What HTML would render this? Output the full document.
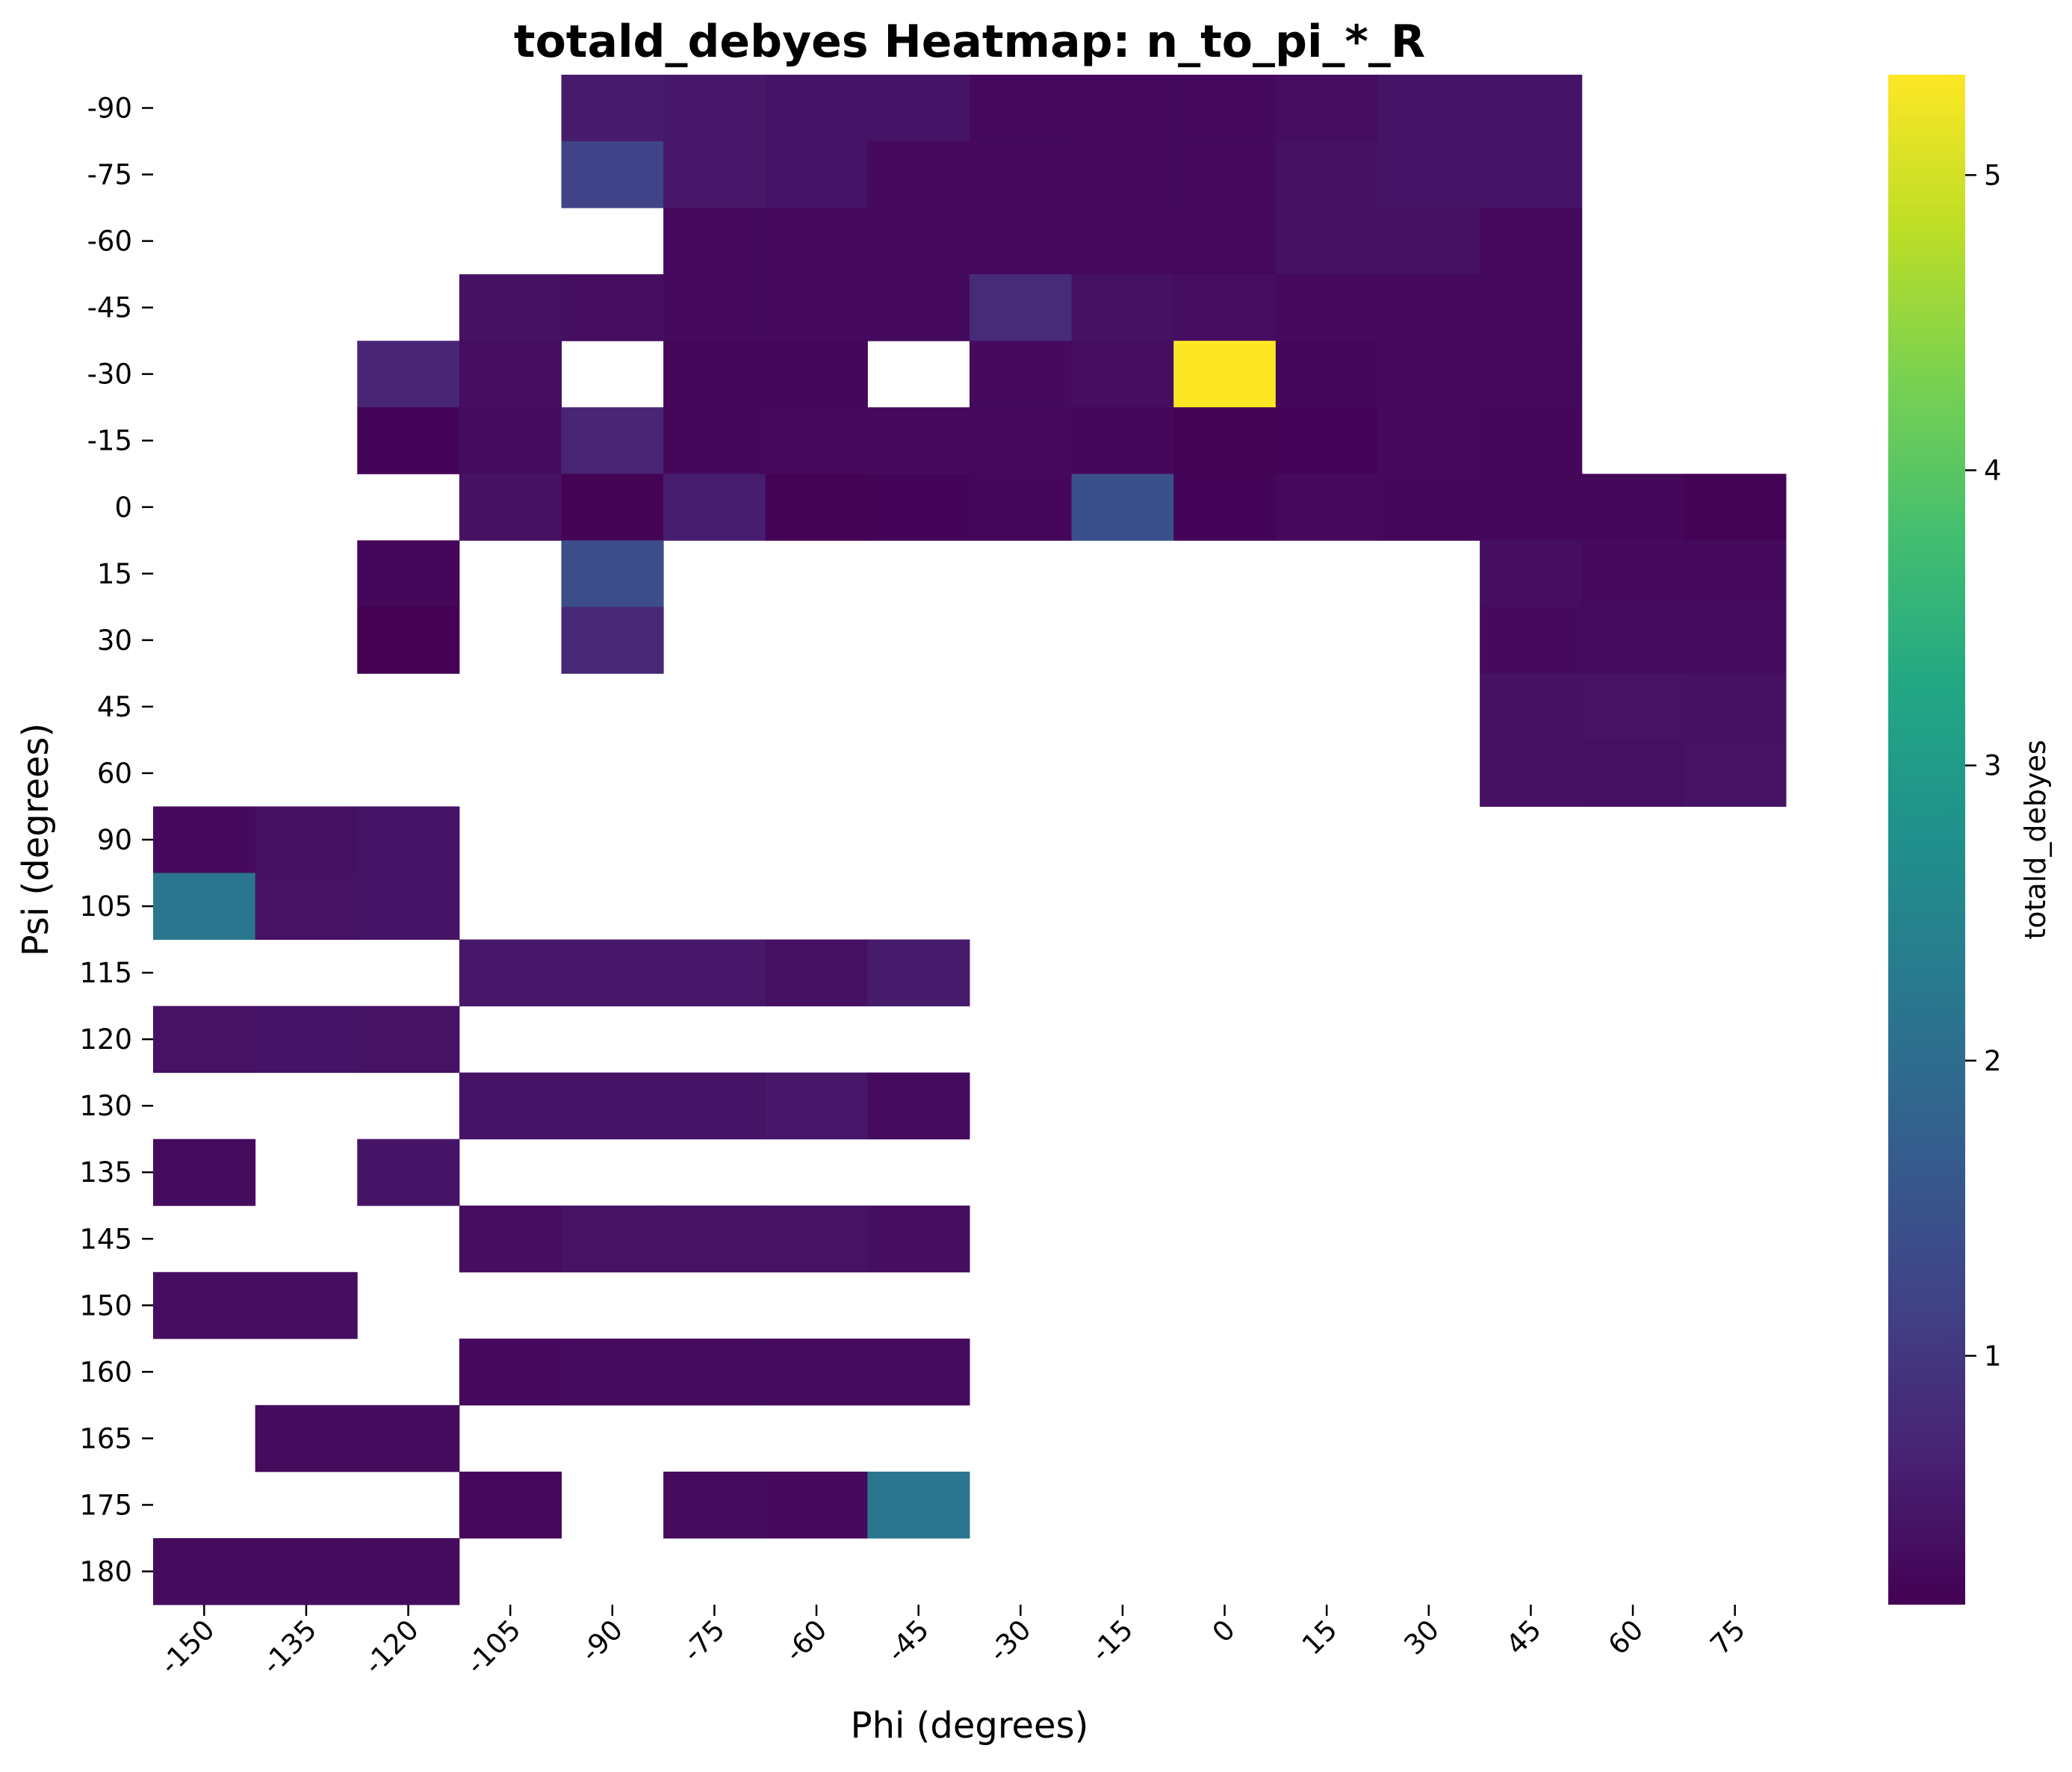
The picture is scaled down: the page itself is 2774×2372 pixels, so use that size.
<!DOCTYPE html>
<html><head><meta charset="utf-8"><style>
html,body{margin:0;padding:0;background:#fff;}
svg text{font-family:"DejaVu Sans","Liberation Sans",sans-serif;fill:#000;}
</style></head><body>
<svg id="chart" width="2774" height="2367" viewBox="0 0 2774 2367" xmlns="http://www.w3.org/2000/svg">
<defs><linearGradient id="cbgrad" x1="0" y1="1" x2="0" y2="0"></linearGradient></defs>
<text x="1298" y="76" text-anchor="middle" font-size="60" font-weight="bold">totald_debyes Heatmap: n_to_pi_*_R</text>
<g id="cells"></g>
<g id="yaxis"></g>
<g id="xaxis"></g>
<text x="0" y="0" transform="translate(64,1124) rotate(-90)" text-anchor="middle" font-size="48">Psi (degrees)</text>
<text x="1298" y="2326" text-anchor="middle" font-size="48">Phi (degrees)</text>
<rect x="2528" y="100" width="103" height="2048" fill="url(#cbgrad)"/>
<g id="cbaxis"></g>
<text x="0" y="0" transform="translate(2738,1124) rotate(-90)" text-anchor="middle" font-size="38">totald_debyes</text>
</svg>
<script>
const phiLabels = [-150,-135,-120,-105,-90,-75,-60,-45,-30,-15,0,15,30,45,60,75];
const psiLabels = [-90,-75,-60,-45,-30,-15,0,15,30,45,60,90,105,115,120,130,135,145,150,160,165,175,180];
const cbTicks = [1,2,3,4,5];
const vMin = 0.157, vMax = 5.34;
const N = null;
const values = [
[N,N,N,N,0.55,0.5,0.45,0.45,0.3,0.3,0.3,0.35,0.45,0.45,N,N],
[N,N,N,N,1.2,0.5,0.45,0.3,0.3,0.28,0.3,0.4,0.45,0.45,N,N],
[N,N,N,N,N,0.3,0.3,0.3,0.3,0.3,0.28,0.4,0.4,0.3,N,N],
[N,N,N,0.4,0.35,0.3,0.3,0.3,0.8,0.4,0.35,0.3,0.3,0.3,N,N],
[N,N,0.7,0.35,N,0.25,0.25,N,0.3,0.35,5.34,0.25,0.28,0.28,N,N],
[N,N,0.2,0.32,0.7,0.25,0.27,0.3,0.3,0.25,0.18,0.2,0.28,0.25,N,N],
[N,N,N,0.4,0.18,0.6,0.18,0.22,0.25,1.45,0.2,0.3,0.25,0.25,0.25,0.18],
[N,N,0.25,N,1.4,N,N,N,N,N,N,N,N,0.35,0.3,0.3],
[N,N,0.16,N,0.75,N,N,N,N,N,N,N,N,0.3,0.32,0.32],
[N,N,N,N,N,N,N,N,N,N,N,N,N,0.4,0.42,0.4],
[N,N,N,N,N,N,N,N,N,N,N,N,N,0.4,0.38,0.42],
[0.3,0.38,0.45,N,N,N,N,N,N,N,N,N,N,N,N,N],
[2.2,0.42,0.45,N,N,N,N,N,N,N,N,N,N,N,N,N],
[N,N,N,0.5,0.5,0.5,0.38,0.55,N,N,N,N,N,N,N,N],
[0.42,0.45,0.42,N,N,N,N,N,N,N,N,N,N,N,N,N],
[N,N,N,0.45,0.45,0.45,0.5,0.32,N,N,N,N,N,N,N,N],
[0.32,N,0.45,N,N,N,N,N,N,N,N,N,N,N,N,N],
[N,N,N,0.35,0.42,0.42,0.42,0.35,N,N,N,N,N,N,N,N],
[0.35,0.35,N,N,N,N,N,N,N,N,N,N,N,N,N,N],
[N,N,N,0.3,0.32,0.32,0.32,0.32,N,N,N,N,N,N,N,N],
[N,0.32,0.32,N,N,N,N,N,N,N,N,N,N,N,N,N],
[N,N,N,0.28,N,0.32,0.3,2.2,N,N,N,N,N,N,N,N],
[0.32,0.32,0.32,N,N,N,N,N,N,N,N,N,N,N,N,N]
];
const L=205,R=2391,T=100,B=2148;
const cw=(R-L)/phiLabels.length, rh=(B-T)/psiLabels.length;
const xPos=i=>L+i*cw, yPos=j=>T+j*rh;
const cbY=v=>B-(v-vMin)/(vMax-vMin)*(B-T);
const vir=[[68,1,84],[72,35,116],[64,67,135],[52,94,141],[41,120,142],[32,144,140],[34,167,132],[68,190,112],[121,209,81],[189,222,38],[253,231,37]];
function color(v){let t=Math.max(0,Math.min(1,(v-vMin)/(vMax-vMin)))*(vir.length-1);let i=Math.min(Math.floor(t),vir.length-2),f=t-i;const c=vir[i].map((a,k)=>Math.round(a+(vir[i+1][k]-a)*f));return `rgb(${c})`;}
const NS="http://www.w3.org/2000/svg";
function mk(tag,attrs,parent){const e=document.createElementNS(NS,tag);for(const k in attrs)e.setAttribute(k,attrs[k]);parent.appendChild(e);return e;}
const cells=document.getElementById('cells');
values.forEach((row,j)=>row.forEach((v,i)=>{if(v===null)return;
 const r=mk('rect',{x:xPos(i),y:yPos(j),width:cw+0.5,height:rh+0.5,fill:color(v)},cells);
 
 }));
const ya=document.getElementById('yaxis');
psiLabels.forEach((p,j)=>{const y=yPos(j)+rh/2;
 const l=mk('line',{x1:L-15,x2:L,y1:y,y2:y,stroke:'#000','stroke-width':2.5},ya);
 
 
 const t=mk('text',{x:L-28,y:y+13,'text-anchor':'end','font-size':37},ya);t.textContent=p;
 
 });
const xa=document.getElementById('xaxis');
phiLabels.forEach((p,i)=>{const x=xPos(i)+cw/2;
 const l=mk('line',{x1:x,x2:x,y1:B,y2:B+15,stroke:'#000','stroke-width':2.5},xa);
 
 
 const t=mk('text',{x:0,y:0,'text-anchor':'end','font-size':37,transform:`translate(${x+16},${B+36}) rotate(-45)`},xa);t.textContent=p;
 
 });
const g=document.getElementById('cbgrad');
vir.forEach((c,k)=>mk('stop',{offset:(k/(vir.length-1)),'stop-color':`rgb(${c})`},g));
const cba=document.getElementById('cbaxis');
cbTicks.forEach(v=>{const y=cbY(v);
 const l=mk('line',{x1:2631,x2:2646,y1:y,y2:y,stroke:'#000','stroke-width':2.5},cba);
 
 
 const t=mk('text',{x:2656,y:y+13,'font-size':37},cba);t.textContent=v;
 
 });
</script>
</body></html>
